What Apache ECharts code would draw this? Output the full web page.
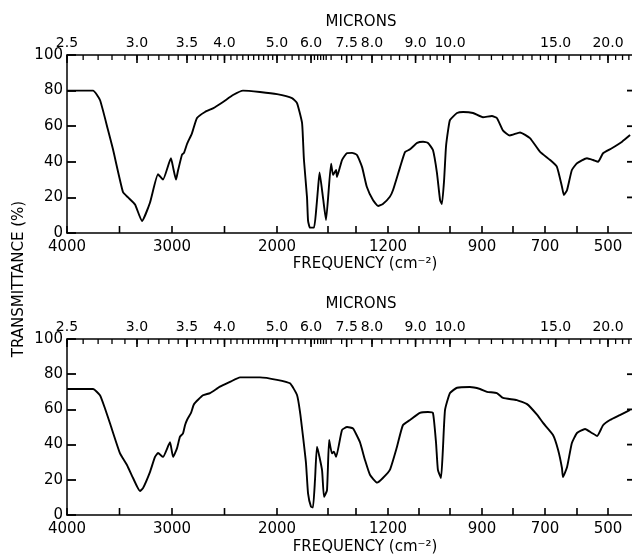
<!DOCTYPE html>
<html><head><meta charset="utf-8">
<script src="https://cdn.jsdelivr.net/npm/echarts@6.0.0/dist/echarts.min.js"></script>
<style>html,body{margin:0;padding:0;background:#fff}#c{width:632px;height:557px}</style>
</head><body><div id="c"></div>
<script>
// Chart-paper frequency scale (piecewise linear in cm^-1): frequency knots and axis units
const FREQ_KNOTS = [4000, 3000, 2000, 1667, 1400, 1300, 1200, 1100, 1000, 900, 800, 700, 600, 500, 425];
const AXIS_KNOTS = [0, 105, 210, 244, 261, 289, 321, 352, 383, 415, 446, 478, 510, 541, 565];

// Upper spectrum: frequency (cm^-1) and transmittance (%)
const freqTop = [4000,3752,3686,3610,3562,3467,3419,3352,3286,3210,3133,3086,3010,2990,2962,2943,2905,2886,2857,2810,
  2762,2686,2610,2514,2419,2324,2162,2000,1853,1804,1755,1745,1736,1706,1696,1677,1620,1588,1557,1533,
  1479,1431,1389,1382,1371,1368,1350,1332,1314,1297,1281,1266,1247,1231,1216,1194,1184,1161,1145,1129,
  1106,1087,1071,1055,1042,1032,1026,1019,1013,1006,1000,978,959,928,897,868,852,832,810,778,
  747,716,684,663,647,641,631,616,600,568,548,532,516,488,456,431];
const transTop = [80,80,74.7,58,47,23,20,16,6.7,17,33,30,42,37,30,35,44,45,50,56,
  64.6,68,70,73.6,77.5,80,79.2,78,75.8,73,62,52,41,20,7,3,3,12,25,34,
  20,7.3,39,32.6,35.4,31.5,41,44.9,45,43.8,37,25.8,18.5,15.2,16.3,20.4,24,37,45.5,47,
  50.6,51.3,50.6,46.6,33.7,18.5,16.3,29.8,48.3,57.9,63.5,67.4,68,67.4,65,65.7,64.6,57.5,54.8,56.5,
  53.3,45.7,41,37.3,26,21.3,24.2,35.4,39.2,42,41,40,44.8,47.6,51.3,55];

// Lower spectrum
const freqBottom = [4000,3752,3686,3638,3590,3495,3429,3371,3305,3276,3210,3162,3133,3086,3019,2990,2952,2924,2895,2876,
  2857,2819,2790,2705,2638,2543,2448,2352,2162,2000,1873,1804,1775,1745,1716,1696,1667,1636,1604,1573,
  1494,1463,1416,1396,1386,1379,1371,1350,1332,1311,1288,1272,1256,1234,1216,1194,1171,1152,1129,1097,
  1071,1055,1045,1039,1029,1023,1016,1000,978,938,906,884,852,832,788,756,725,706,675,659,
  647,644,631,616,600,574,552,535,516,494,463,431];
const transBottom = [71.6,71.6,68,60.5,52,35,28.4,21,13.6,15.3,24.4,33,35.2,33,41.3,33,38,44.5,46.4,51,
  54,58,63,68,69.3,72.9,75.6,78.2,78.2,76.8,74.8,68.2,58.8,44.5,29.4,12.3,4.7,4.3,20,38.8,
  25.6,10.3,14,42.6,35,36,33,48.3,50,49.2,41.5,31.3,22.7,18.4,21,25.6,38.8,51,54,58,
  58.5,58,40.9,25.6,21,37,59.7,69.3,72.3,72.7,71.6,70,69.3,66.5,65.3,63,57,52.3,45.5,37,
  26.7,21.6,27.3,40.9,46.6,48.9,46.6,44.9,51,54,56.8,59.7];

// Axis ticks and labels
const FREQ_TICKS = [4000,3500,3000,2500,2000,1400,1300,1200,1100,1000,900,800,700,600,500];
const FREQ_LABELS = [4000,3000,2000,1200,900,700,500];
const MICRON_LABELS = [2.5,3.0,3.5,4.0,5.0,6.0,7.5,8.0,9.0,10.0,15.0,20.0];
const TRANS_TICKS = [20,40,60,80];

function range(a,b,s){const r=[];for(let v=a;v<=b+1e-9;v+=s)r.push(Math.round(v*100)/100);return r;}
const MICRON_TICKS = [].concat(range(2.5,5.0,0.1),range(5.2,10.0,0.2),range(10.5,15,0.5),range(16,23,1));

function freqToAxis(f){
  for(let i=0;i<FREQ_KNOTS.length-1;i++){
    const f0=FREQ_KNOTS[i],f1=FREQ_KNOTS[i+1];
    if(f<=f0 && f>=f1){return AXIS_KNOTS[i]+(f0-f)/(f0-f1)*(AXIS_KNOTS[i+1]-AXIS_KNOTS[i]);}
  }
  return f>FREQ_KNOTS[0]?AXIS_KNOTS[0]:AXIS_KNOTS[AXIS_KNOTS.length-1];
}
function axisToFreq(p){
  for(let i=0;i<AXIS_KNOTS.length-1;i++){
    const p0=AXIS_KNOTS[i],p1=AXIS_KNOTS[i+1];
    if(p>=p0-1e-9 && p<=p1+1e-9){return FREQ_KNOTS[i]-(p-p0)/(p1-p0)*(FREQ_KNOTS[i]-FREQ_KNOTS[i+1]);}
  }
  return FREQ_KNOTS[FREQ_KNOTS.length-1];
}
const AX_MAX = AXIS_KNOTS[AXIS_KNOTS.length-1];
const FONT = 'DejaVu Sans';
function pairs(fs,ts){return fs.map((f,i)=>[freqToAxis(f),ts[i]]);}

const freqTickVals = FREQ_TICKS.map(freqToAxis);
const freqLabelVals = FREQ_LABELS.map(freqToAxis);
const micTickVals = MICRON_TICKS.map(m=>freqToAxis(1e4/m)).filter(v=>v>=0&&v<=AX_MAX);
const micLabelVals = MICRON_LABELS.map(m=>freqToAxis(1e4/m));

function xAxesFor(g){
  return [
    {gridIndex:g,type:'value',position:'bottom',min:0,max:AX_MAX,
     axisLine:{show:true,onZero:false,lineStyle:{color:'#000',width:1.5}},
     axisTick:{show:false},
     axisLabel:{customValues:freqLabelVals,formatter:v=>String(Math.round(axisToFreq(v))),margin:7,color:'#000',fontSize:15,fontFamily:FONT},
     splitLine:{show:false}},
    {gridIndex:g,type:'value',position:'top',min:0,max:AX_MAX,
     axisLine:{show:true,onZero:false,lineStyle:{color:'#000',width:1.5}},
     axisTick:{show:false},
     axisLabel:{customValues:micLabelVals,formatter:v=>(1e4/axisToFreq(v)).toFixed(1),margin:5,color:'#000',fontSize:14,fontFamily:FONT},
     splitLine:{show:false}}
  ];
}
function yAxesFor(g){
  return [
    {gridIndex:g,type:'value',position:'left',min:0,max:100,interval:20,
     axisLine:{show:true,onZero:false,lineStyle:{color:'#000',width:1.5}},
     axisTick:{show:true,inside:true,length:9,lineStyle:{color:'#000',width:1.8}},
     axisLabel:{margin:4,color:'#000',fontSize:15,fontFamily:FONT},splitLine:{show:false}}
  ];
}
// short tick marks drawn through the axes' own scales
function vTicks(xi,yi,vals,edge,len,w){
  return {type:'custom',xAxisIndex:xi,yAxisIndex:yi,clip:false,
    data:vals.map(v=>[v,edge]),encode:{x:0,y:1},
    renderItem:(params,api)=>{const p=api.coord([api.value(0),api.value(1)]);const d=api.value(1)>50?1:-1;
      return {type:'line',shape:{x1:p[0],y1:p[1],x2:p[0],y2:p[1]+d*len},style:{stroke:'#000',lineWidth:w}};}};
}
function hTicks(xi,yi,vals,edge,len,w){
  return {type:'custom',xAxisIndex:xi,yAxisIndex:yi,clip:false,
    data:vals.map(v=>[edge,v]),encode:{x:0,y:1},
    renderItem:(params,api)=>{const p=api.coord([api.value(0),api.value(1)]);
      return {type:'line',shape:{x1:p[0],y1:p[1],x2:p[0]-len,y2:p[1]},style:{stroke:'#000',lineWidth:w}};}};
}
function ticksFor(xBase,yi){
  return [
    vTicks(xBase,yi,freqTickVals,0,7,1.6),
    vTicks(xBase,yi,micTickVals,100,5,1.3),
    vTicks(xBase,yi,micLabelVals,100,8,1.6),
    hTicks(xBase,yi,TRANS_TICKS,AX_MAX,5,1.8)
  ];
}

const chart = echarts.init(document.getElementById('c'),null,{renderer:'canvas'});
const txt=(t,x,y,size,rot)=>({type:'text',x:x,y:y,rotation:rot||0,
  style:{text:t,fill:'#000',font:size+'px "'+FONT+'"',align:'center',verticalAlign:'middle'}});
chart.setOption({
  backgroundColor:'#fff',
  animation:false,
  grid:[{left:67,right:0,top:55,height:178},{left:67,right:0,top:339,height:176}],
  xAxis:[].concat(xAxesFor(0),xAxesFor(1)),
  yAxis:[].concat(yAxesFor(0),yAxesFor(1)),
  series:ticksFor(0,0).concat(ticksFor(2,1),[
    {type:'line',xAxisIndex:0,yAxisIndex:0,data:pairs(freqTop,transTop),showSymbol:false,smooth:0.15,
     lineStyle:{color:'#000',width:1.9}},
    {type:'line',xAxisIndex:2,yAxisIndex:1,data:pairs(freqBottom,transBottom),showSymbol:false,smooth:0.15,
     lineStyle:{color:'#000',width:1.9}}
  ]),
  graphic:[
    txt('MICRONS',361,22,15),
    txt('MICRONS',361,304,15),
    txt('FREQUENCY (cm\u207B\u00B2)',365,264,15),
    txt('FREQUENCY (cm\u207B\u00B2)',365,547,15),
    txt('TRANSMITTANCE (%)',19,279,15,Math.PI/2)
  ]
});
</script></body></html>
